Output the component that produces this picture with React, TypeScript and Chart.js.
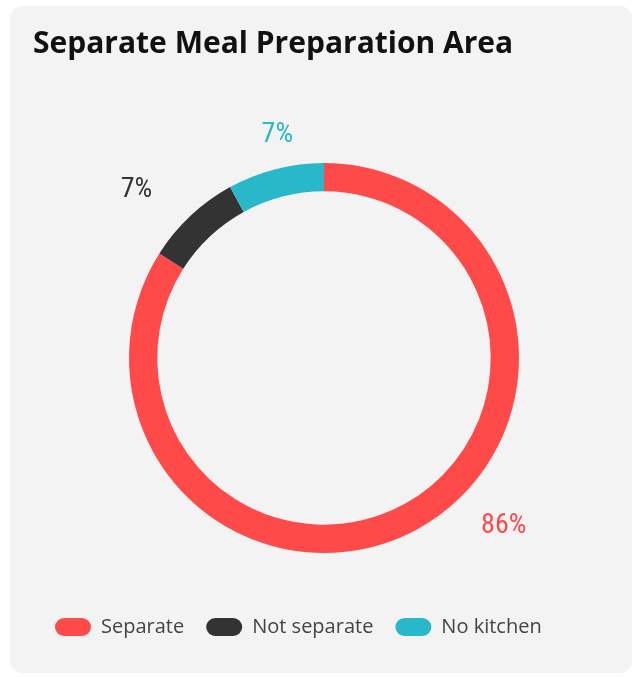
import React, { useEffect, useRef } from "react";
import { Chart, registerables } from "chart.js";

Chart.register(...registerables);

const categories = ["Separate", "Not separate", "No kitchen"];
const shares = [84, 8, 8];
const percentLabels = ["86%", "7%", "7%"];
const colors = ["#ff4a4a", "#333333", "#29b8ca"];
const titleText = "Separate Meal Preparation Area";

const percentLabelPlugin = {
  id: "percentLabels",
  afterDatasetsDraw(chart: any, _args: any, opts: any) {
    const meta = chart.getDatasetMeta(0);
    const ctx = chart.ctx;
    ctx.save();
    ctx.font = opts.font;
    try {
      (ctx as any).fontStretch = "condensed";
    } catch (e) {}
    ctx.textAlign = "center";
    ctx.textBaseline = "middle";
    meta.data.forEach((arc: any, i: number) => {
      const p = arc.getProps(["x", "y", "startAngle", "endAngle", "outerRadius"], true);
      const frac = opts.fractions[i];
      const a = p.startAngle + frac * (p.endAngle - p.startAngle);
      const r = p.outerRadius + opts.offsets[i];
      ctx.fillStyle = colors[i];
      ctx.fillText(percentLabels[i], p.x + Math.cos(a) * r, p.y + Math.sin(a) * r);
    });
    ctx.restore();
  },
};

export default function App() {
  const ref = useRef<HTMLCanvasElement | null>(null);
  useEffect(() => {
    if (!ref.current) return;
    const chart = new Chart(ref.current, {
      type: "doughnut",
      data: {
        labels: categories,
        datasets: [
          {
            data: shares,
            backgroundColor: colors,
            borderWidth: 0,
            radius: 195,
            cutout: "85.5%",
          },
        ],
      },
      options: {
        animation: false,
        responsive: false,
        maintainAspectRatio: false,
        plugins: {
          title: {
            display: true,
            text: titleText,
            align: "start",
            color: "#111111",
            font: { family: "'Open Sans', sans-serif", size: 30, weight: "bold" },
            padding: { top: 12, bottom: 59 },
          },
          legend: {
            position: "bottom",
            align: "start",
            labels: {
              boxWidth: 36,
              boxHeight: 18,
              useBorderRadius: true,
              borderRadius: 9,
              padding: 22,
              color: "#444444",
              font: { family: "'Open Sans', sans-serif", size: 20 },
            },
          },
          tooltip: { enabled: false },
          percentLabels: {
            font: "28px 'Roboto', sans-serif",
            fractions: [0.44, 0.33, 0.59],
            offsets: [51, 57, 33],
          },
        } as any,
      },
      plugins: [percentLabelPlugin],
    });
    return () => chart.destroy();
  }, []);

  return (
    <div
      style={{
        position: "absolute",
        left: 10,
        top: 6,
        width: 622,
        height: 667,
        borderRadius: 12,
        background: "#f3f3f3",
      }}
    >
      <canvas
        ref={ref}
        width={582}
        height={633}
        style={{ position: "absolute", left: 23, top: 8, width: 582, height: 633 }}
      />
    </div>
  );
}
